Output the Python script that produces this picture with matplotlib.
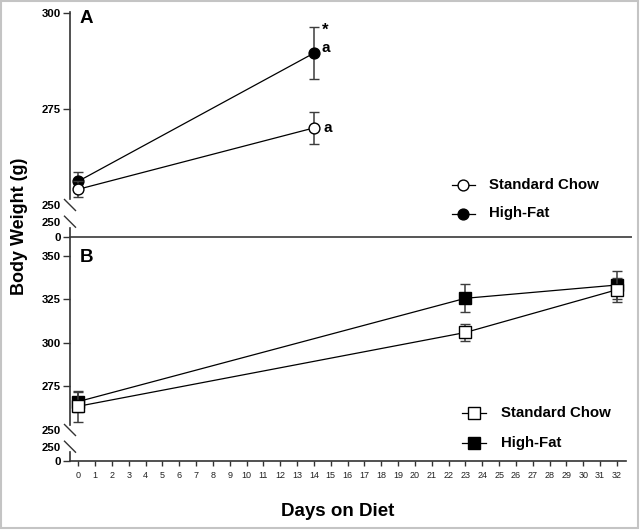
import matplotlib
matplotlib.use('Agg')
import matplotlib.pyplot as plt
from matplotlib.lines import Line2D
from matplotlib.patches import Rectangle

plt.rcParams['font.family'] = ['Liberation Sans', 'DejaVu Sans']

# ---- data ----
days_a = [0, 14]
chow_a = [254.1, 270.1]
chow_a_err = [2.1, 4.2]
fat_a = [256.2, 289.6]
fat_a_err = [2.5, 6.7]

days_b = [0, 23, 32]
chow_b = [263.6, 305.9, 330.4]
chow_b_err = [8.8, 4.8, 6.8]
fat_b = [266.3, 325.5, 333.1]
fat_b_err = [5.7, 8.0, 8.1]

day_ticks = list(range(0, 33))
ticks_a = [250, 275, 300]
ticks_b = [250, 275, 300, 325, 350]
labels = ['Standard Chow', 'High-Fat']

W, H = 644, 531
DARK = '#333333'


# rectangle in pixels (left, top, right, bottom) -> figure fraction
def box(x0, y0, x1, y1):
    return [x0 / W, 1 - y1 / H, (x1 - x0) / W, (y1 - y0) / H]


def px(x, y):
    return x / W, 1 - y / H


def clean(ax, xlim):
    for s in ['top', 'right']:
        ax.spines[s].set_visible(False)
    for s in ['left', 'bottom']:
        ax.spines[s].set_color(DARK)
        ax.spines[s].set_linewidth(1.2)
    ax.set_xlim(*xlim)
    ax.patch.set_alpha(0)
    ax.tick_params(axis='y', direction='out', length=4.8, width=1.0, color=DARK,
                   pad=2, labelsize=8.2)
    for t in ax.get_yticklabels():
        t.set_fontweight('bold')


def break_mark(ax, y):
    # little diagonal slash on the y axis at data value y
    xd, yd = ax.transData.transform((ax.get_xlim()[0], y))
    inv = fig.transFigure.inverted()
    p0 = inv.transform((xd - 5.5, yd + 5.5))
    p1 = inv.transform((xd + 5.5, yd - 5.5))
    fig.add_artist(Line2D([p0[0], p1[0]], [p0[1], p1[1]], color=DARK, lw=1.0))


fig = plt.figure(figsize=(6.44, 5.31), dpi=100)
fig.add_artist(Rectangle((1 / W, 3 / H), 637 / W, 527 / H, transform=fig.transFigure,
                         fill=False, edgecolor='#c4c4c4', lw=1.5))

xa = (-0.493, 32.84)
xb = (-0.493, 32.54)

# ---------- panel A ----------
axA = fig.add_axes(box(70, 11.7, 631, 205))
axA.set_ylim(250, 300.4)
axA.set_yticks(ticks_a)
clean(axA, xa)
axA.spines['bottom'].set_visible(False)
axA.set_xticks([])
axA.spines['left'].set_bounds(251.5, 300.4)
axA.yaxis.get_major_ticks()[0].tick1line.set_visible(False)

axA2 = fig.add_axes(box(70, 221.7, 631, 236.7))
axA2.set_ylim(0, 250)
axA2.set_yticks([0, 250])
clean(axA2, xa)
axA2.set_xticks([])
axA2.spines['left'].set_bounds(0, 150)
axA2.spines['bottom'].set_color('#555555')
axA2.spines['bottom'].set_linewidth(1.4)
axA2.yaxis.get_major_ticks()[1].tick1line.set_visible(False)

ebk = dict(ecolor='#3c3c3c', elinewidth=1.1, capsize=3.6, capthick=1.1, color='black',
           lw=0.9, markeredgecolor='black', markeredgewidth=1.0)
axA.errorbar(days_a, fat_a, yerr=fat_a_err, fmt='-o', markersize=7.8,
             markerfacecolor='black', zorder=3, clip_on=False, **ebk)
axA.errorbar(days_a, chow_a, yerr=chow_a_err, fmt='-o', markersize=7.8,
             markerfacecolor='white', zorder=4, clip_on=False, **ebk)

axA.text(14.68, 293.6, '*', fontsize=12, fontweight='bold', ha='center', va='bottom')
axA.text(14.68, 291.0, 'a', fontsize=11, fontweight='bold', ha='center', va='center')
axA.text(14.82, 270.1, 'a', fontsize=11, fontweight='bold', ha='center', va='center')
axA.text(0.5, 298.6, 'A', fontsize=13.5, fontweight='bold', ha='center', va='center')

# ---------- panel B ----------
axB = fig.add_axes(box(70, 236.7, 626, 430))
axB.set_ylim(250, 360.8)
axB.set_yticks(ticks_b)
clean(axB, xb)
axB.spines['bottom'].set_visible(False)
axB.set_xticks([])
axB.spines['left'].set_bounds(253.0, 360.8)
axB.yaxis.get_major_ticks()[0].tick1line.set_visible(False)

axB2 = fig.add_axes(box(70, 446.7, 626, 460.7))
axB2.set_ylim(0, 250)
axB2.set_yticks([0, 250])
clean(axB2, xb)
axB2.spines['left'].set_bounds(0, 150)
axB2.yaxis.get_major_ticks()[1].tick1line.set_visible(False)
axB2.set_xticks(day_ticks)
axB2.tick_params(axis='x', direction='out', length=3.6, width=1.0, color=DARK,
                 pad=4, labelsize=6.5, labelcolor='#222222')

axB.errorbar(days_b, fat_b, yerr=fat_b_err, fmt='-s', markersize=8.4,
             markerfacecolor='black', zorder=3, clip_on=False, **ebk)
axB.errorbar(days_b, chow_b, yerr=chow_b_err, fmt='-s', markersize=8.4,
             markerfacecolor='white', zorder=4, clip_on=False, **ebk)
axB.text(0.5, 348.9, 'B', fontsize=13.5, fontweight='bold', ha='center', va='center')

for ax in (axA, axA2, axB, axB2):
    break_mark(ax, 250)


# ---------- keys ----------
def key(x, y, marker, face, text, half=11.5, tx=26):
    x0, y0 = px(x - half, y)
    x1, _ = px(x + half, y)
    fig.add_artist(Line2D([x0, x1], [y0, y0], color='black', lw=0.9))
    xm, ym = px(x, y)
    fig.add_artist(Line2D([xm], [ym], marker=marker, markersize=7.8 if marker == 'o' else 8.4,
                          markerfacecolor=face, markeredgecolor='black', markeredgewidth=1.0))
    xt, yt = px(x + tx, y)
    fig.text(xt, yt, text, fontsize=10.8, fontweight='bold', ha='left', va='center')


key(463, 185, 'o', 'white', labels[0])
key(463, 213.5, 'o', 'black', labels[1])
key(474, 413.3, 's', 'white', labels[0], tx=27)
key(474, 442.7, 's', 'black', labels[1], tx=27)

# axis titles
fig.text(*px(20, 226), 'Body Weight (g)', rotation=90, fontsize=13, fontweight='bold',
         ha='center', va='center')
fig.text(*px(338, 512), 'Days on Diet', fontsize=13.5, fontweight='bold',
         ha='center', va='center')

fig.savefig('out.png', dpi=100)
